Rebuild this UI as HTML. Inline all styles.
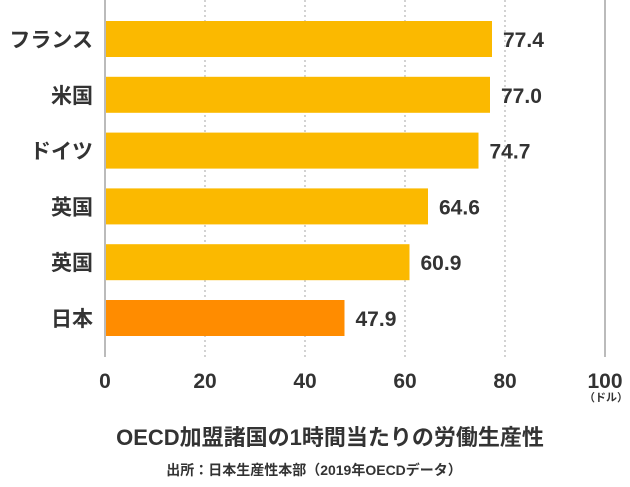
<!DOCTYPE html>
<html><head><meta charset="utf-8"><style>
body{margin:0;background:#fff;width:630px;height:482px;overflow:hidden}
svg text{font-family:"Liberation Sans","Noto Sans CJK JP",sans-serif;fill:#333}
</style></head><body>
<svg width="630" height="482">
<g id="grid"></g><g id="bars"></g><g id="labels"></g>
<text x="330" y="445" text-anchor="middle" font-size="22" font-weight="bold">OECD加盟諸国の1時間当たりの労働生産性</text>
<text x="314" y="475" text-anchor="middle" font-size="14" font-weight="bold">出所：日本生産性本部（2019年OECDデータ）</text>
<text x="606" y="401" text-anchor="middle" font-size="11" font-weight="bold">（ドル）</text>
</svg>
<script>
const categories=["フランス","米国","ドイツ","英国","英国","日本"];
const values=[77.4,77.0,74.7,64.6,60.9,47.9];
const ticks=[0,20,40,60,80,100];
const ns="http://www.w3.org/2000/svg";
const x=v=>105+v*5;
const rowY=i=>21+i*55.8;
function mk(p,t,a){const e=document.createElementNS(ns,t);for(const k in a)e.setAttribute(k,a[k]);p.appendChild(e);return e;}
const g=document.getElementById('grid'),b=document.getElementById('bars'),l=document.getElementById('labels');
ticks.forEach(t=>{
 const solid=t===0||t===100;
 const ln=mk(g,'line',{x1:x(t),x2:x(t),y1:0,y2:357,stroke:solid?'#bbb':'#bbb','stroke-width':solid?2:1.3,'stroke-dasharray':solid?'':'2,3'});
 
 
 const tx=mk(g,'text',{x:x(t),y:388,'text-anchor':'middle','font-size':21,'font-weight':'bold'});
 tx.textContent=t;
 
 
});
values.forEach((v,i)=>{
 const y=rowY(i);
 const r=mk(b,'rect',{x:x(0)+1,y:y,width:x(v)-x(0)-1,height:36,fill:i===5?'#FF8C00':'#FBB900'});
 
 
 const vt=mk(l,'text',{x:x(v)+11,y:y+26,'font-size':21,'font-weight':'bold'});
 vt.textContent=v.toFixed(1);
 
 
 const ct=mk(l,'text',{x:93,y:y+26,'text-anchor':'end','font-size':21,'font-weight':'bold'});
 ct.textContent=categories[i];
 
 
});
</script>
</body></html>
